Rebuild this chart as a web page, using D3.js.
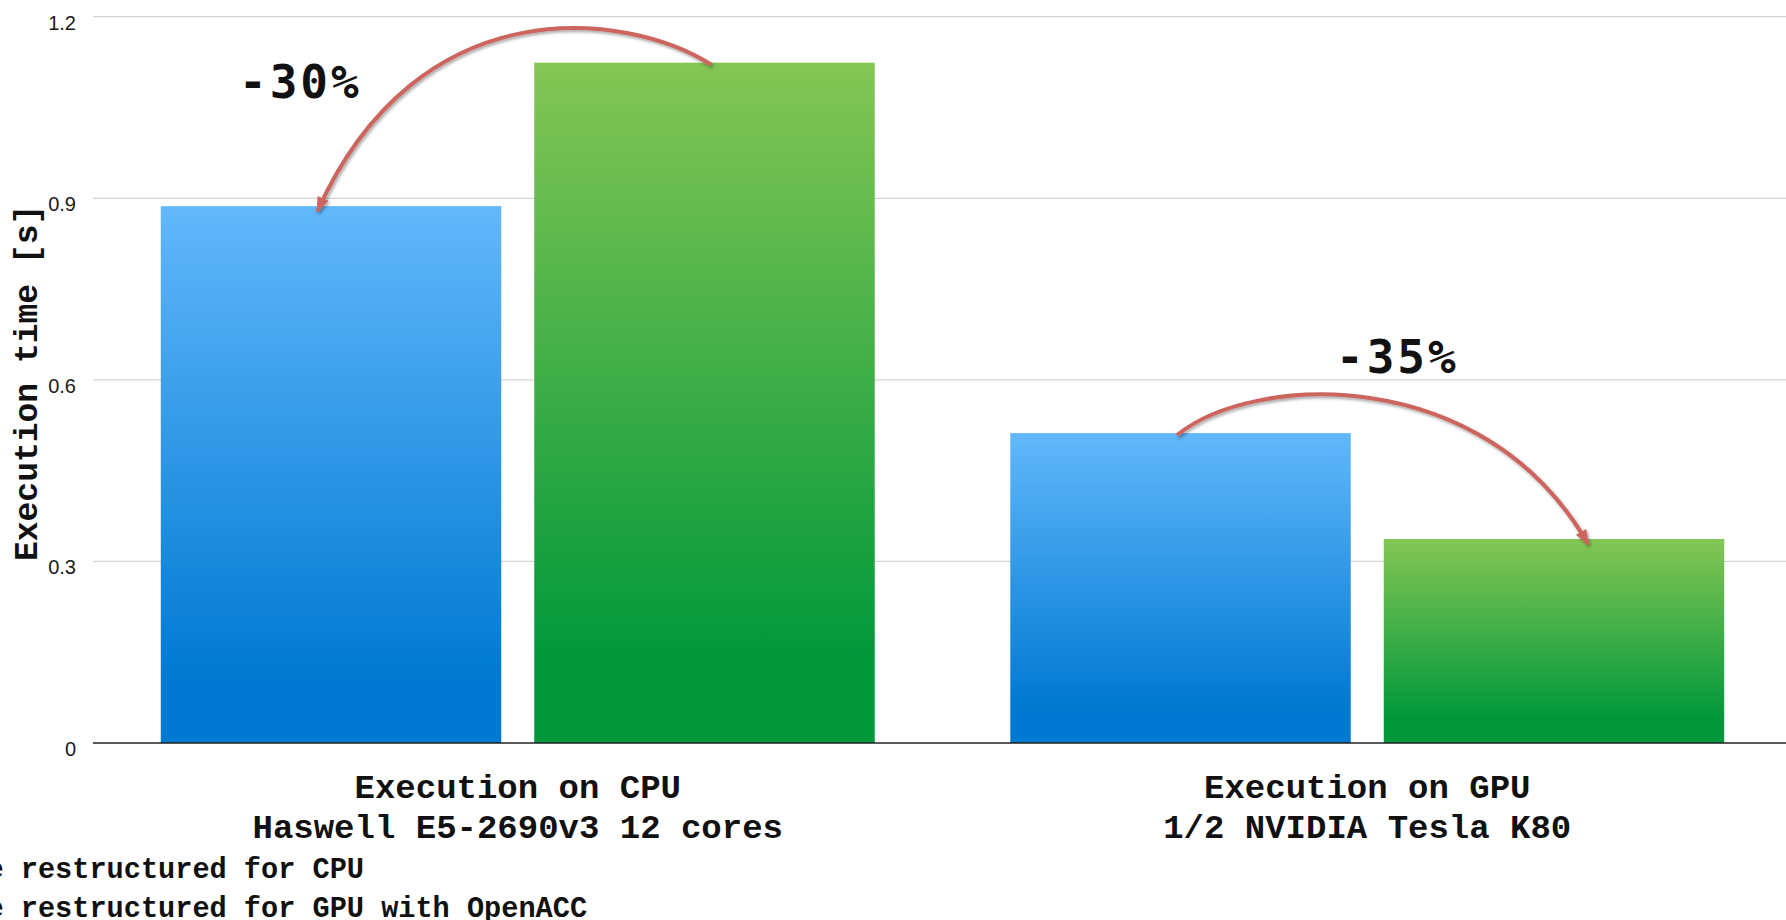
<!DOCTYPE html>
<html>
<head>
<meta charset="utf-8">
<script src="https://cdn.jsdelivr.net/npm/d3@7"></script>
<style>
  html, body { margin: 0; padding: 0; background: #fff; overflow: hidden; }
  svg { display: block; }
</style>
</head>
<body>
<svg id="chart" width="1786" height="920"></svg>
<script>
// Execution time of the two code versions on each platform (seconds)
const categories = [
  ["Execution on CPU", "Haswell E5-2690v3 12 cores"],
  ["Execution on GPU", "1/2 NVIDIA Tesla K80"]
];
const seriesNames = ["Code restructured for CPU", "Code restructured for GPU with OpenACC"];
const cpuVersion = [0.887, 0.512];
const gpuVersion = [1.124, 0.337];
const yTicks = [0, 0.3, 0.6, 0.9, 1.2];

// Speed-up annotations: arrow from one bar to the other within a group
const annotations = [
  { cat: 0, from: 1, to: 0, label: "-30%", fromPos: 0.52, toPos: 0.46, labelX: 0.41, labelY: 1.092,
    c1: [-0.25, 1.21], c2: [-0.86, 1.25] },
  { cat: 1, from: 0, to: 1, label: "-35%", fromPos: 0.49, toPos: 0.60, labelX: 0.04, labelY: 0.638,
    c1: [0.22, 0.61], c2: [0.9, 0.63] }
];

const svg = d3.select("#chart");
const W = 1786, H = 920;
const plot = { left: 93, right: 1792, top: 16.7, bottom: 743 };

const x0 = d3.scaleBand().domain(d3.range(categories.length))
  .range([plot.left, plot.right]).paddingInner(0).paddingOuter(0);
const x1 = d3.scaleBand().domain(d3.range(seriesNames.length))
  .range([0, x0.bandwidth()]).paddingInner(0.0884).paddingOuter(0.1815);
const y = d3.scaleLinear().domain([0, 1.2]).range([plot.bottom, plot.top]);

const values = [cpuVersion, gpuVersion];
const bars = [];
categories.forEach((c, ci) => values.forEach((s, si) => bars.push({ ci, si, v: s[ci] })));

const defs = svg.append("defs");
const grads = [
  { id: "gBlue", top: "#62b8fb", bottom: "#0079d2" },
  { id: "gGreen", top: "#84c654", bottom: "#00983b" }
];
grads.forEach(g => {
  const lg = defs.append("linearGradient").attr("id", g.id)
    .attr("x1", 0).attr("y1", 0).attr("x2", 0).attr("y2", 1);
  lg.append("stop").attr("offset", "0%").attr("stop-color", g.top);
  lg.append("stop").attr("offset", "88%").attr("stop-color", g.bottom);
  lg.append("stop").attr("offset", "100%").attr("stop-color", g.bottom);
});
const shadow = defs.append("filter").attr("id", "arrowShadow")
  .attr("x", "-10%").attr("y", "-10%").attr("width", "130%").attr("height", "130%");
shadow.append("feDropShadow").attr("dx", 1.5).attr("dy", 2).attr("stdDeviation", 1.4)
  .attr("flood-color", "#000").attr("flood-opacity", 0.35);
defs.append("marker").attr("id", "arrowHead")
  .attr("markerUnits", "userSpaceOnUse")
  .attr("viewBox", "0 -7 16 14").attr("refX", 14).attr("refY", 0)
  .attr("markerWidth", 16).attr("markerHeight", 14).attr("orient", "auto")
  .append("path").attr("d", "M0,-6L16,0L0,6Z").attr("fill", "#cd655e");

// Gridlines
svg.append("g").selectAll("line").data(yTicks.filter(t => t > 0)).join("line")
  .attr("x1", plot.left).attr("x2", W)
  .attr("y1", d => y(d)).attr("y2", d => y(d))
  .attr("stroke", "#d4d4d4").attr("stroke-width", 1.3);

// Y axis tick labels
const yAxis = d3.axisLeft(y).tickValues(yTicks).tickSize(0).tickPadding(0)
  .tickFormat(d => d === 0 ? "0" : d3.format(".1f")(d));
const ya = svg.append("g").attr("transform", "translate(76,0)").call(yAxis);
ya.select(".domain").remove();
ya.selectAll("text")
  .attr("font-family", "Liberation Sans, Arial, Helvetica, sans-serif")
  .attr("font-size", 20).attr("fill", "#1a1a1a").attr("dy", "0.62em");

// Bars
svg.append("g").selectAll("rect").data(bars).join("rect")
  .attr("x", d => x0(d.ci) + x1(d.si))
  .attr("width", x1.bandwidth())
  .attr("y", d => y(d.v))
  .attr("height", d => y(0) - y(d.v))
  .attr("fill", d => d.si === 0 ? "url(#gBlue)" : "url(#gGreen)");

// Baseline
svg.append("line").attr("x1", plot.left).attr("x2", W)
  .attr("y1", y(0)).attr("y2", y(0)).attr("stroke", "#222").attr("stroke-width", 1.3);

// Category labels
const monoBold = "Liberation Mono, Courier New, DejaVu Sans Mono, monospace";
const cat = svg.append("g").selectAll("text").data(categories).join("text")
  .attr("x", (d, i) => x0(i) + x0.bandwidth() / 2)
  .attr("y", 798)
  .attr("text-anchor", "middle")
  .attr("font-family", monoBold).attr("font-weight", "bold").attr("font-size", 34)
  .attr("fill", "#111");
cat.selectAll("tspan").data(d => d).join("tspan")
  .attr("x", function () { return d3.select(this.parentNode).attr("x"); })
  .attr("dy", (d, i) => i === 0 ? 0 : 40)
  .text(d => d);

// Y axis title
svg.append("text")
  .attr("transform", `translate(37,${(plot.top + plot.bottom) / 2 + 3}) rotate(-90)`)
  .attr("text-anchor", "middle")
  .attr("font-family", monoBold).attr("font-weight", "bold").attr("font-size", 33)
  .attr("fill", "#111")
  .text("Execution time [s]");

// Legend (starts left of the visible area)
const legend = svg.append("g").attr("transform", "translate(-65,0)");
const legendColors = ["#2a9bea", "#3fae48"];
seriesNames.forEach((name, i) => {
  const ly = 878 + i * 39;
  legend.append("rect").attr("x", -40).attr("y", ly - 22).attr("width", 24).attr("height", 24)
    .attr("fill", legendColors[i]);
  legend.append("text").attr("x", 0).attr("y", ly)
    .attr("font-family", monoBold).attr("font-weight", "bold").attr("font-size", 28.6)
    .attr("fill", "#111").text(name);
});

// Annotation arrows and percentage labels
const barX = (ci, si, f) => x0(ci) + x1(si) + f * x1.bandwidth();
const ag = svg.append("g");
annotations.forEach(a => {
  const vals = [cpuVersion[a.cat], gpuVersion[a.cat]];
  const p0 = [barX(a.cat, a.from, a.fromPos), y(vals[a.from]) + 2];
  const p3 = [barX(a.cat, a.to, a.toPos), y(vals[a.to]) + 5];
  const span = x1.bandwidth();
  const c1 = [p0[0] + a.c1[0] * span, y(a.c1[1])];
  const c2 = [p0[0] + a.c2[0] * span, y(a.c2[1])];
  const path = d3.path();
  path.moveTo(p0[0], p0[1]);
  path.bezierCurveTo(c1[0], c1[1], c2[0], c2[1], p3[0], p3[1]);
  ag.append("path").attr("d", path.toString())
    .attr("fill", "none").attr("stroke", "#cd655e").attr("stroke-width", 4)
    .attr("stroke-linecap", "butt")
    .attr("marker-end", "url(#arrowHead)")
    .attr("filter", "url(#arrowShadow)");
  ag.append("text")
    .attr("x", barX(a.cat, 0, a.labelX) + (a.cat === 1 ? x1(1) - x1(0) : 0))
    .attr("y", y(a.labelY) + 16)
    .attr("text-anchor", "middle")
    .attr("font-family", "DejaVu Sans Mono, monospace").attr("font-weight", "bold")
    .attr("font-size", 46).attr("letter-spacing", 3)
    .attr("fill", "#111").text(a.label);
});
</script>
</body>
</html>
